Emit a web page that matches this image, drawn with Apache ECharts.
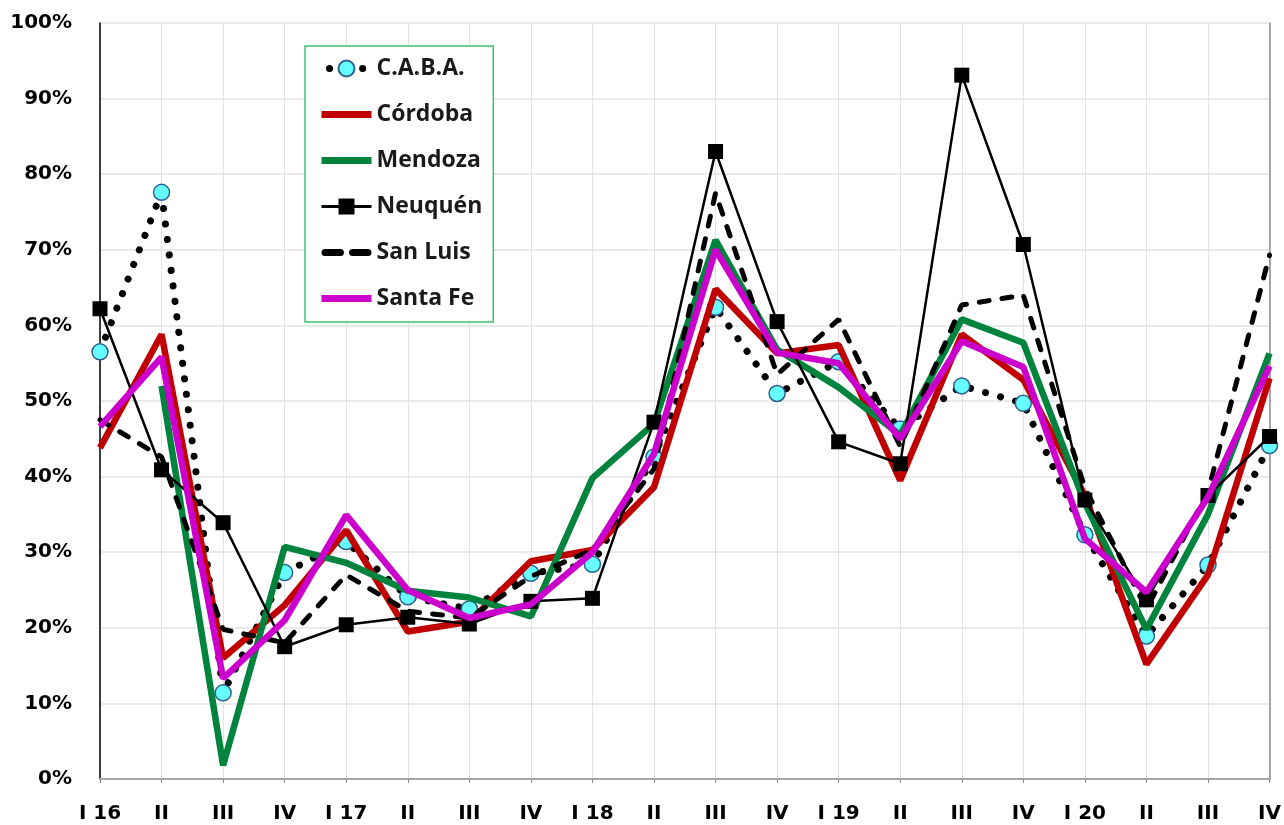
<!DOCTYPE html>
<html>
<head>
<meta charset="utf-8">
<script src="https://cdn.jsdelivr.net/npm/echarts@6/dist/echarts.min.js"></script>
<style>
html,body{margin:0;padding:0;background:#fff;}
#chart{width:1284px;height:825px;}
</style>
</head>
<body>
<div id="chart"></div>
<script>
const categories = ['I 16','II','III','IV','I 17','II','III','IV','I 18','II','III','IV','I 19','II','III','IV','I 20','II','III','IV'];
const caba    = [56.5, 77.6, 11.4, 27.3, 31.4, 24.1, 22.5, 27.2, 28.4, 42.6, 62.4, 51.0, 55.2, 46.3, 52.0, 49.7, 32.3, 18.9, 28.3, 44.1];
const cordoba = [43.8, 58.8, 16.0, 23.0, 32.9, 19.5, 20.8, 28.8, 30.3, 38.6, 64.8, 56.3, 57.4, 39.5, 58.8, 52.8, 37.5, 15.2, 27.0, 53.0];
const mendoza = [null, 52.0, 1.8, 30.7, 28.6, 24.9, 24.0, 21.5, 39.8, 47.0, 71.3, 56.8, 51.8, 45.5, 60.8, 57.7, 36.5, 19.8, 35.0, 56.3];
const neuquen = [62.2, 40.9, 33.9, 17.5, 20.4, 21.4, 20.5, 23.5, 23.9, 47.2, 83.0, 60.5, 44.6, 41.7, 93.1, 70.7, 36.9, 23.7, 37.5, 45.3];
const sanluis = [47.5, 42.6, 19.8, 18.0, 27.0, 22.2, 21.3, 26.8, 30.3, 41.0, 77.5, 53.5, 60.8, 44.0, 62.7, 64.0, 38.5, 22.5, 38.0, 69.3];
const santafe = [46.6, 55.8, 13.3, 21.0, 34.9, 25.0, 21.3, 23.1, 30.0, 43.0, 70.0, 56.4, 55.0, 45.0, 57.9, 54.5, 31.8, 24.7, 37.3, 54.6];
const seriesNames = ['C.A.B.A.', 'Córdoba', 'Mendoza', 'Neuquén', 'San Luis', 'Santa Fe'];

const chart = echarts.init(document.getElementById('chart'), null, {renderer: 'canvas'});
const axisFont = {fontFamily: 'DejaVu Sans', fontWeight: 'bold', fontSize: 20, color: '#000'};

const RED = '#c00000', GREEN = '#00843d', MAGENTA = '#cc00cc';
const solidIcon = 'path://M0,0H50V7H0Z';
const dashIcon = 'path://M3.5,0H18.5A3.5,3.5 0 0 1 18.5,7H3.5A3.5,3.5 0 0 1 3.5,0Z M30.5,0H45.5A3.5,3.5 0 0 1 45.5,7H30.5A3.5,3.5 0 0 1 30.5,0Z';

function lineSeries(name, data, extra) {
  return Object.assign({
    name: name, type: 'line', data: data, symbol: 'none',
    connectNulls: false, animation: false
  }, extra);
}

chart.setOption({
  animation: false,
  backgroundColor: '#fff',
  grid: {left: 100, right: 13, top: 23, bottom: 46, containLabel: false},
  legend: {
    orient: 'vertical', left: 305, top: 46,
    backgroundColor: '#fff', borderColor: '#3cc36c', borderWidth: 1.5,
    padding: [11, 11, 12, 13],
    itemWidth: 50, itemHeight: 20, itemGap: 23, itemTextGap: 3,
    textStyle: {fontFamily: 'Open Sans', fontWeight: 'bold', fontSize: 23, color: '#1a1a1a'},
    data: [
      {name: seriesNames[0], lineStyle: {color: '#000', width: 7, type: [0.1, 33], cap: 'round', dashOffset: -8}},
      {name: seriesNames[1], icon: solidIcon, itemStyle: {color: RED}},
      {name: seriesNames[2], icon: solidIcon, itemStyle: {color: GREEN}},
      {name: seriesNames[3], lineStyle: {color: '#000', width: 3}},
      {name: seriesNames[4], icon: dashIcon, itemStyle: {color: '#000'}},
      {name: seriesNames[5], icon: solidIcon, itemStyle: {color: MAGENTA}}
    ]
  },
  xAxis: [{
    type: 'category', data: categories, boundaryGap: false,
    axisLine: {lineStyle: {color: '#8c8c8c', width: 2}},
    axisTick: {show: true, length: 4, lineStyle: {color: '#8c8c8c'}},
    axisLabel: Object.assign({margin: 25, interval: 0}, axisFont),
    splitLine: {show: true, lineStyle: {color: '#e3e3e3', width: 1}}
  }, {
    type: 'category', data: categories, boundaryGap: false, position: 'top',
    axisLine: {lineStyle: {color: '#a6a6a6', width: 2}},
    axisTick: {show: false}, axisLabel: {show: false}, splitLine: {show: false}
  }],
  yAxis: [{
    type: 'value', min: 0, max: 100, interval: 10,
    axisLine: {show: true, lineStyle: {color: '#000', width: 1.5}},
    axisTick: {show: false},
    axisLabel: Object.assign({margin: 28, formatter: '{value}%'}, axisFont),
    splitLine: {show: true, lineStyle: {color: '#e3e3e3', width: 1.5}}
  }, {
    type: 'value', min: 0, max: 100, interval: 10, position: 'right',
    axisLine: {show: true, lineStyle: {color: '#8c8c8c', width: 1.5}},
    axisTick: {show: false}, axisLabel: {show: false}, splitLine: {show: false}
  }],
  series: [
    lineSeries(seriesNames[0], caba, {
      symbol: 'circle', symbolSize: 16, showSymbol: true,
      itemStyle: {color: '#66ffff', borderColor: '#2d5f8f', borderWidth: 1.5},
      lineStyle: {color: '#000', width: 7, type: [0.1, 15.5], cap: 'round'},
      z: 3
    }),
    lineSeries(seriesNames[1], cordoba, {
      itemStyle: {color: RED},
      lineStyle: {color: RED, width: 6.5}, z: 4
    }),
    lineSeries(seriesNames[2], mendoza, {
      itemStyle: {color: GREEN},
      lineStyle: {color: GREEN, width: 6.5}, z: 5
    }),
    lineSeries(seriesNames[3], neuquen, {
      symbol: 'rect', symbolSize: 15, showSymbol: true,
      itemStyle: {color: '#000'},
      lineStyle: {color: '#000', width: 2.5}, z: 6
    }),
    lineSeries(seriesNames[4], sanluis, {
      itemStyle: {color: '#000'},
      lineStyle: {color: '#000', width: 5, type: [10, 13], cap: 'round'}, z: 7
    }),
    lineSeries(seriesNames[5], santafe, {
      itemStyle: {color: MAGENTA},
      lineStyle: {color: MAGENTA, width: 6.5}, z: 8
    })
  ]
});
</script>
</body>
</html>
